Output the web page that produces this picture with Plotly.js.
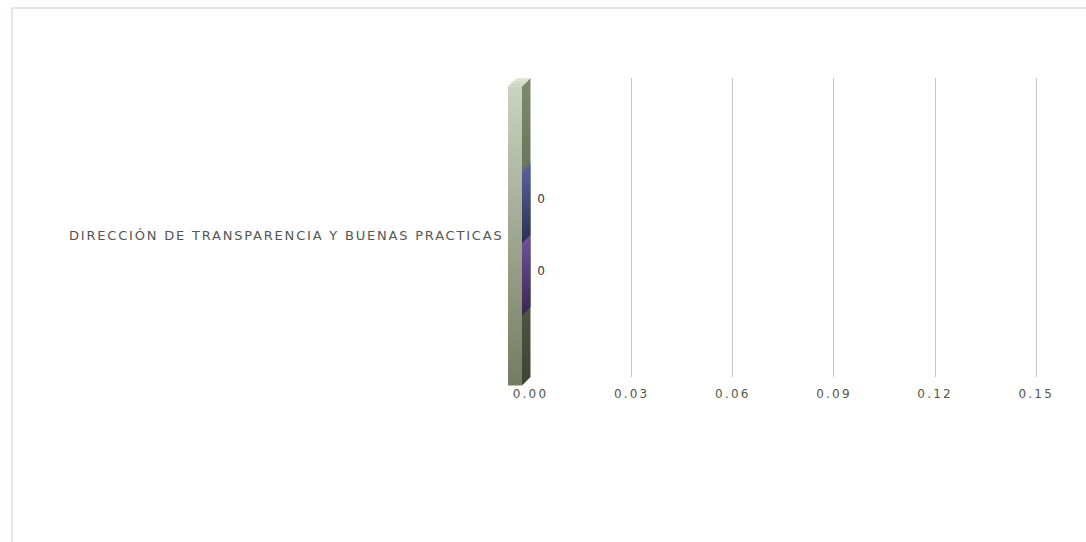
<!DOCTYPE html>
<html><head><meta charset="utf-8">
<script src="https://cdn.plot.ly/plotly-3.0.1.min.js"></script>
<style>
html,body{margin:0;padding:0;background:#fff;}
#chart{width:1086px;height:542px;}
#chart .xtick text{letter-spacing:2.2px;}
#chart .ytick text{letter-spacing:1.8px;}
</style></head><body><div id="chart"></div>
<script>
// ---- data ----
const categories = ['DIRECCIÓN DE TRANSPARENCIA Y BUENAS PRACTICAS'];
const seriesNames = ['Serie 1', 'Serie 2'];
const series1Values = [0];
const series2Values = [0];
const xTickValues = [0, 0.03, 0.06, 0.09, 0.12, 0.15];
const xTickLabels = ['0.00', '0.03', '0.06', '0.09', '0.12', '0.15'];

// ---- style ----
const W = 1086, H = 542;
const FONT = 'DejaVu Sans, Verdana, sans-serif';
const seriesColors = [['#5a64a4', '#2a2f4e'], ['#7152a0', '#3a264f']];
const BARGAP = 0.518;
const DEPTH = 8.5;
const WALL_W = 14;

const seriesValues = [series1Values, series2Values];
const catPos = categories.map((c, i) => i);

const barTraces = seriesValues.map((vals, k) => ({
  type: 'bar', orientation: 'h', name: seriesNames[k],
  x: vals, y: catPos,
  marker: {color: seriesColors[k][0]},
  text: vals.map(v => '\u00a0' + String(v)), textposition: 'outside',
  textfont: {family: FONT, size: 12, color: '#34384a'},
  cliponaxis: false, hoverinfo: 'skip'
}));

const layout = {
  width: W, height: H,
  margin: {l: 0, r: 0, t: 0, b: 0},
  paper_bgcolor: '#ffffff', plot_bgcolor: 'rgba(0,0,0,0)',
  showlegend: false, hovermode: false,
  barmode: 'group', bargap: BARGAP,
  font: {family: FONT, size: 12, color: '#555555'},
  xaxis: {
    domain: [530.5 / W, 1070 / W], range: [0, 0.16],
    tickvals: xTickValues, ticktext: xTickLabels,
    showgrid: true, gridcolor: '#c8c8c8', gridwidth: 1,
    zeroline: false, showline: false, ticks: '',
    ticklabelstandoff: 8,
    tickfont: {family: FONT, size: 12, color: '#55554a'}
  },
  yaxis: {
    domain: [(H - 377) / H, (H - 78) / H], range: [0.475, -0.525],
    tickvals: catPos, ticktext: categories,
    showgrid: false, zeroline: false, showline: false, ticks: '',
    ticklabelstandoff: 26,
    tickfont: {family: FONT, size: 13, color: '#555555'}
  },
  xaxis2: {domain: [0, 1], range: [0, W], visible: false, anchor: 'y2', fixedrange: true},
  yaxis2: {domain: [0, 1], range: [H, 0], visible: false, anchor: 'x2', fixedrange: true},
  shapes: [
    {type: 'line', xref: 'paper', yref: 'paper', x0: 12 / W, x1: 12 / W, y0: 0, y1: 1 - 8 / H,
     line: {color: '#e1e6ee', width: 2}},
    {type: 'line', xref: 'paper', yref: 'paper', x0: 12 / W, x1: 1, y0: 1 - 8 / H, y1: 1 - 8 / H,
     line: {color: '#e1e6ee', width: 2}}
  ]
};

const gd = document.getElementById('chart');
Plotly.newPlot(gd, barTraces, layout, {staticPlot: true, displayModeBar: false}).then(() => {
  const xa = gd._fullLayout.xaxis, ya = gd._fullLayout.yaxis;
  const bx = xa._offset + xa.c2p(0);
  const top = ya._offset, bot = ya._offset + ya._length;
  const fx = bx - DEPTH, lx = fx - WALL_W;
  const poly = (xs, ys, c0, c1) => ({
    type: 'scatter', mode: 'lines', xaxis: 'x2', yaxis: 'y2',
    x: xs.concat([xs[0]]), y: ys.concat([ys[0]]),
    fill: 'toself', line: {width: 0, color: 'rgba(0,0,0,0)'},
    fillcolor: c0,
    fillgradient: {type: 'vertical', colorscale: [[0, c0], [1, c1]],
                   start: Math.min.apply(null, ys), stop: Math.max.apply(null, ys)},
    hoverinfo: 'skip', showlegend: false
  });
  const extra = [];
  // 3D wall at zero
  extra.push(poly([lx, fx, fx, lx], [top + DEPTH, top + DEPTH, bot + DEPTH, bot + DEPTH], '#cbd3c0', '#737b63'));
  extra.push(poly([fx, bx, bx, fx], [top + DEPTH, top, bot, bot + DEPTH], '#7f8a6c', '#3d4334'));
  extra.push(poly([lx, lx + DEPTH, bx, fx], [top + DEPTH, top, top, top + DEPTH], '#e4e9dc', '#c9d1bd'));
  // depth faces of the zero-length bars
  const n = seriesValues.length, gw = 1 - BARGAP, bw = gw / n;
  seriesValues.forEach((vals, k) => {
    catPos.forEach((p) => {
      const p0 = p - gw / 2 + k * bw, p1 = p0 + bw;
      const a = ya._offset + ya.c2p(p0), b = ya._offset + ya.c2p(p1);
      const y0 = Math.min(a, b), y1 = Math.max(a, b);
      extra.push(poly([fx, bx, bx, fx], [y0 + DEPTH, y0, y1, y1 + DEPTH], seriesColors[k][0], seriesColors[k][1]));
    });
  });
  return Plotly.addTraces(gd, extra);
});
</script></body></html>
